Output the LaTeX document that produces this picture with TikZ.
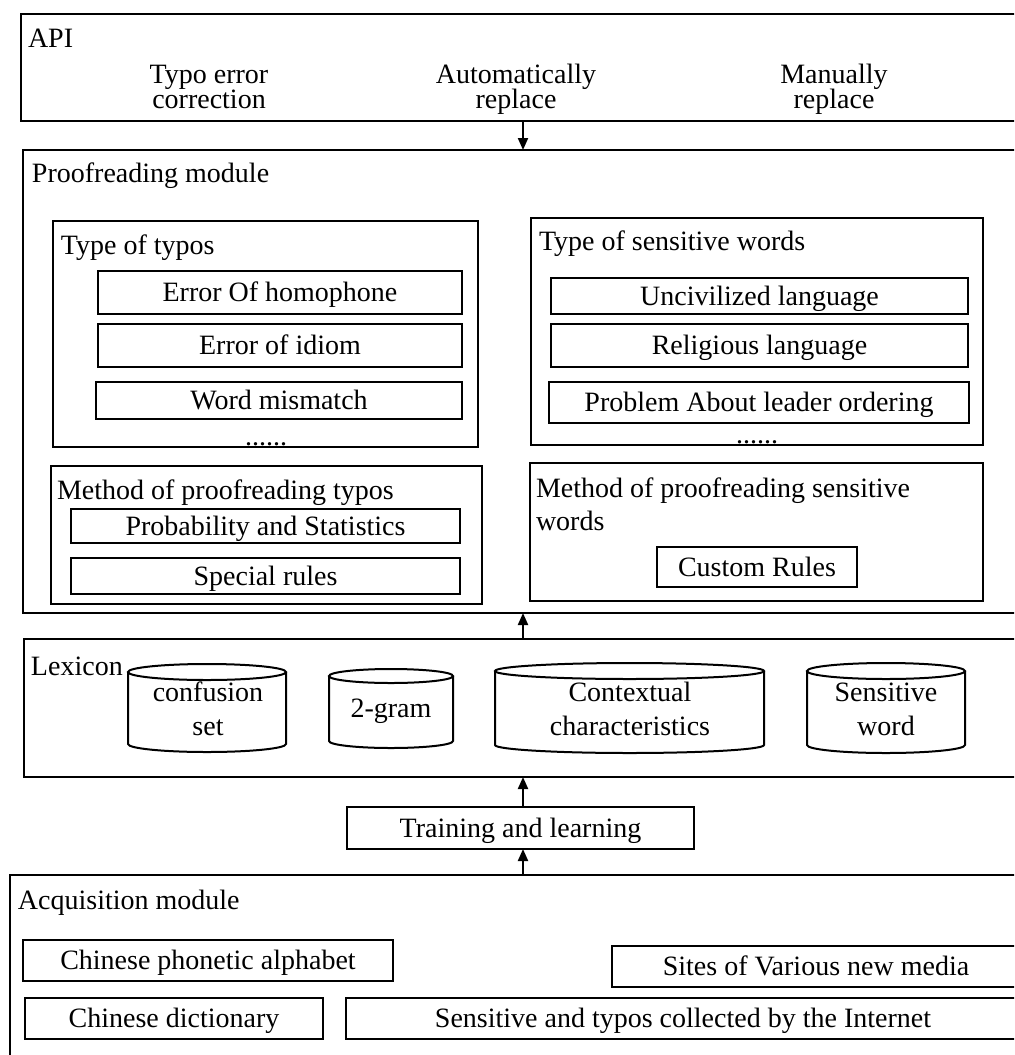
\documentclass[tikz,border=0pt]{standalone}
\usepackage{fontspec}
\setmainfont{Liberation Serif}
\usetikzlibrary{arrows.meta}
\newcommand\mycyl[5]{%
  \draw[cylline] (#1-#2,-#3) -- (#1-#2,-#4) arc[start angle=180,end angle=360,x radius=#2,y radius=#5] -- (#1+#2,-#3);
  \draw[cylline] (#1,-#3) ellipse [x radius=#2, y radius=#5];}
\newcommand\apifnt{\fontsize{14}{12.5}\selectfont\setlength{\lineskiplimit}{-20pt}\setlength{\lineskip}{0pt}}
\begin{document}
\begin{tikzpicture}[x=0.5pt,y=0.5pt,
  every node/.style={inner sep=0pt, outer sep=0pt, font=\fontsize{14}{17}\selectfont},
  bx/.style 2 args={draw, line width=1pt, rectangle, minimum width=#1*0.5pt, minimum height=#2*0.5pt, text height=9.3pt, text depth=0pt},
  ttl/.style={anchor=base west},
  ml/.style={anchor=base, align=center},
  apifont/.style={font=\apifnt},
  cylline/.style={line width=1pt},
  arr/.style={line width=1pt, -{Triangle[length=6pt,width=5pt]}}]
\useasboundingbox (0,0) rectangle (1014,-1055);
\clip (0,0) rectangle (1014,-1055);
\coordinate (ax) at (523,0);
% API
\node[bx={997}{107}] (api) at (519.5,-67.5) {};
\node[ttl] (apit) at (28,-47) {API};
\node[ml, apifont] (api1) at (209,-108) {Typo error\\correction};
\node[ml, apifont] (api2) at (516,-108) {Automatically\\replace};
\node[ml, apifont] (api3) at (834,-108) {Manually\\replace};
% Proofreading
\node[bx={995}{463}] (proof) at (520.5,-381.5) {};
\node[ttl] (proft) at (32,-182) {Proofreading module};
\node[bx={425}{226}] (typos) at (265.5,-334) {};
\node[ttl] (typost) at (61,-254) {Type of typos};
\node[bx={364}{43}] (e1) at (280,-292.5) {Error Of homophone};
\node[bx={364}{43}] (e2) at (280,-345.5) {Error of idiom};
\node[bx={366}{37}] (e3) at (279,-400.5) {Word mismatch};
\node[anchor=base] (d1) at (266,-445) {......};
\node[bx={452}{227}] (sens) at (757,-331.5) {};
\node[ttl] (senst) at (539,-250) {Type of sensitive words};
\node[bx={417}{36}] (s1) at (759.5,-296) {Uncivilized language};
\node[bx={417}{43}] (s2) at (759.5,-345.5) {Religious language};
\node[bx={420}{41}] (s3) at (759,-402.5) {Problem About leader ordering};
\node[anchor=base] (d2) at (757,-443) {......};
\node[bx={431}{138}] (mt) at (266.5,-535) {};
\node[ttl] (mtt) at (57,-499) {Method of proofreading typos};
\node[bx={389}{34}] (m1) at (265.5,-526) {Probability and Statistics};
\node[bx={389}{36}] (m2) at (265.5,-576) {Special rules};
\node[bx={453}{138}] (ms) at (756.5,-532) {};
\node[anchor=base west, align=left, font=\fontsize{14}{16.5}\selectfont] (mst) at (536,-530) {Method of proofreading sensitive\\words};
\node[bx={200}{40}] (m3) at (757,-567) {Custom Rules};
% Lexicon
\node[bx={994}{138}] (lex) at (521,-708) {};
\node[ttl] (lext) at (31,-675) {Lexicon};
\mycyl{207}{79}{672}{744}{8}
\mycyl{391}{62}{676}{741}{7}
\mycyl{629.5}{134.5}{671}{745}{8}
\mycyl{886}{79}{671}{745}{8}
\node[ml] (c1) at (208,-735) {confusion\\set};
\node[ml] (c2) at (391,-717) {2-gram};
\node[ml] (c3) at (630,-735) {Contextual\\characteristics};
\node[ml] (c4) at (886,-735) {Sensitive\\word};
% Training
\node[bx={347}{42}] (train) at (520.5,-828) {Training and learning};
% Acquisition
\node[bx={1008}{195}] (acq) at (514,-972.5) {};
\node[ttl] (acqt) at (18,-909) {Acquisition module};
\node[bx={370}{41}] (a1) at (208,-960.5) {Chinese phonetic alphabet};
\node[bx={408}{41}] (a2) at (816,-966.5) {Sites of Various new media};
\node[bx={298}{41}] (a3) at (174,-1018.5) {Chinese dictionary};
\node[bx={674}{41}] (a4) at (683,-1018.5) {Sensitive and typos collected by the Internet};
% arrows
\draw[arr] (api.south -| ax) -- (proof.north -| ax);
\draw[arr] (lex.north -| ax) -- (proof.south -| ax);
\draw[arr] (train.north -| ax) -- (lex.south -| ax);
\draw[arr] (acq.north -| ax) -- (train.south -| ax);
\end{tikzpicture}
\end{document}
